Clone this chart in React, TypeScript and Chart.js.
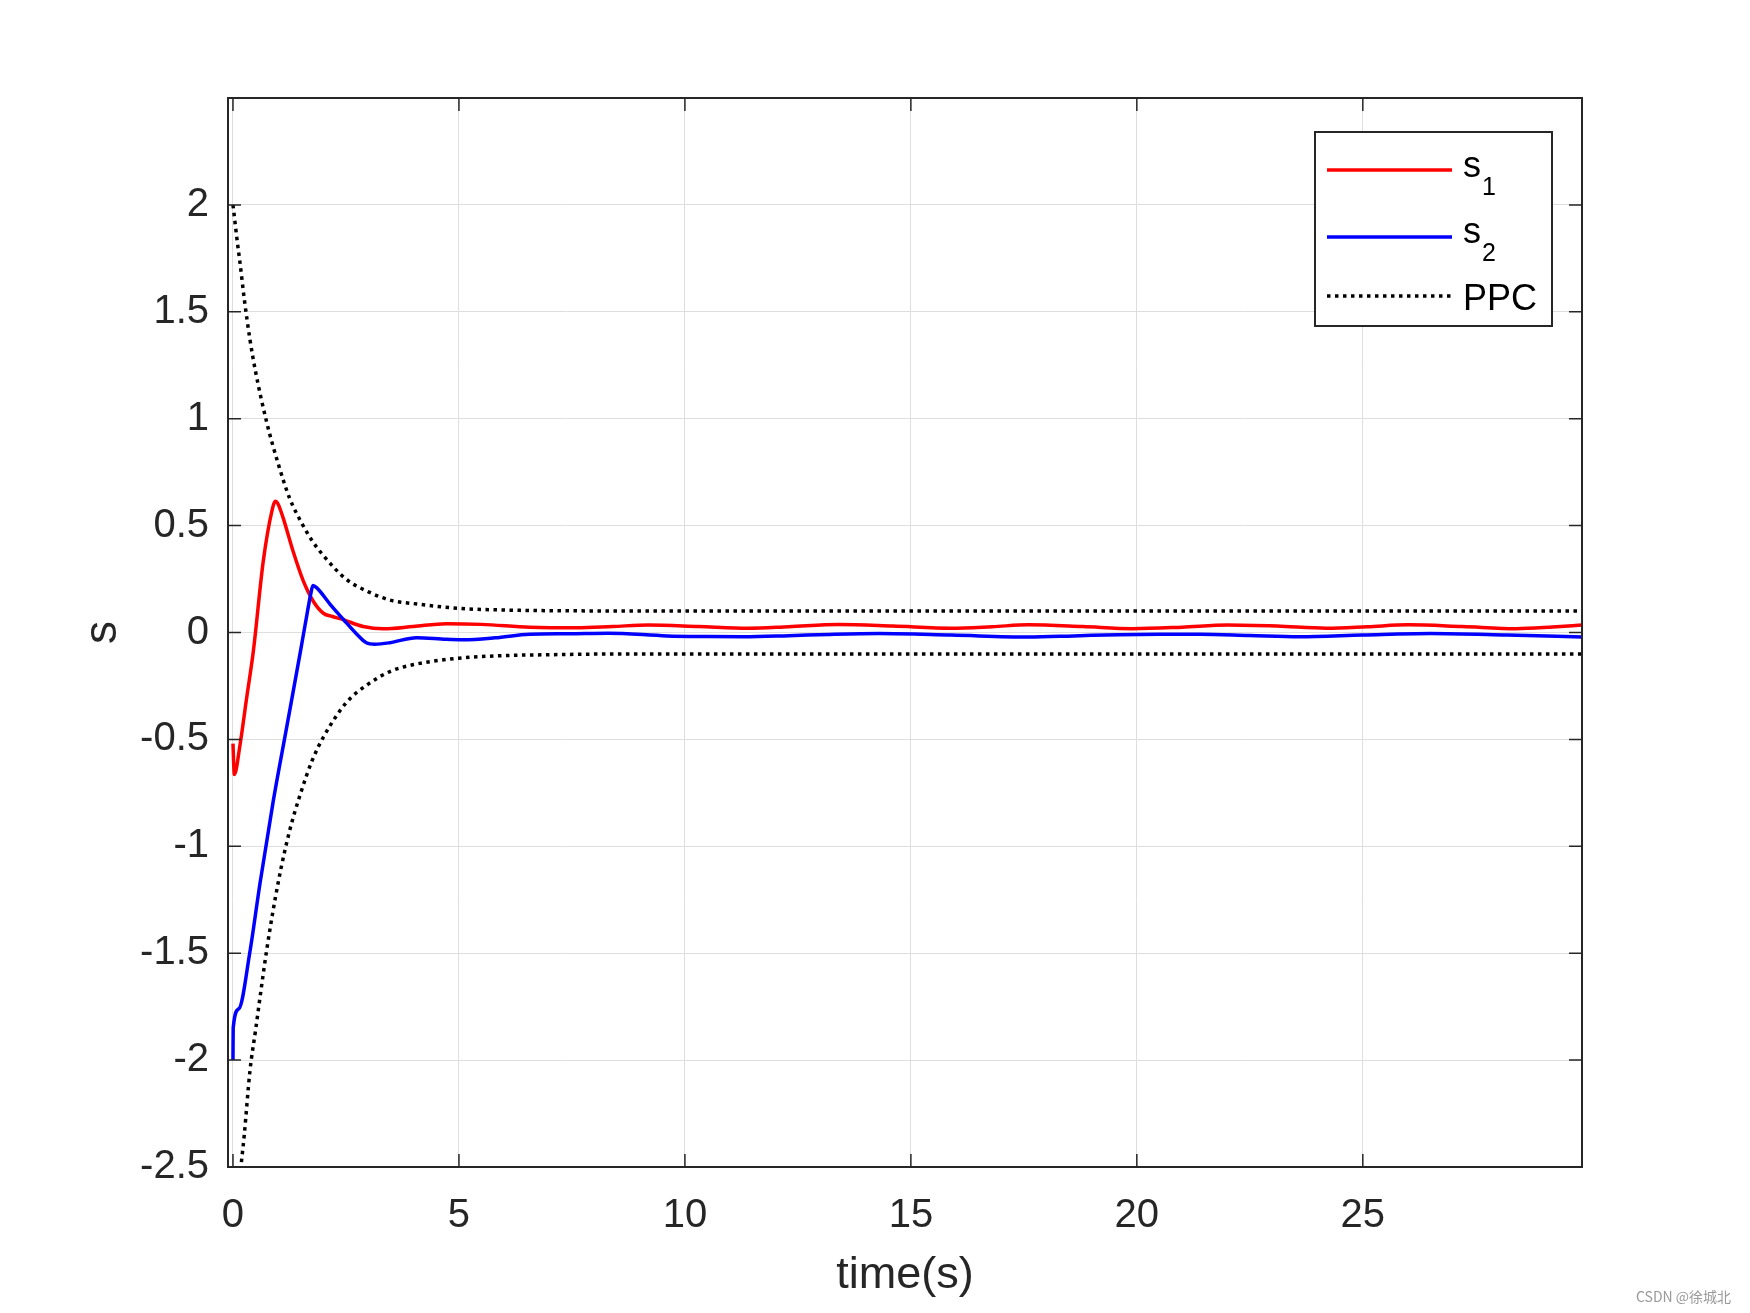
import React, { useEffect, useRef } from "react";
import { Chart, registerables } from "chart.js";

Chart.register(...registerables);

// ---- axes ----
const xTicks = [0, 5, 10, 15, 20, 25];
const xTickLabels = ["0", "5", "10", "15", "20", "25"];
const yTicks = [-2.5, -2, -1.5, -1, -0.5, 0, 0.5, 1, 1.5, 2];
const yTickLabels = ["-2.5", "-2", "-1.5", "-1", "-0.5", "0", "0.5", "1", "1.5", "2"];
const xRange = [-0.11, 29.85];
const yRange = [-2.5, 2.5];
const xTitle = "time(s)";
const yTitle = "s";

// ---- series s1 (red) ----
const s1Time = [0, 0.03, 0.155, 0.3, 0.45, 0.67, 0.86, 0.94, 1.0, 1.11, 1.33, 1.56, 1.78, 2.0, 2.2, 2.44, 2.88, 3.33, 3.99, 4.72, 5.5, 6.57, 7.6, 8.4, 9.2, 10.3, 11.4, 12.3, 13.4, 14.6, 15.9, 16.8, 17.6, 18.8, 19.9, 21.0, 22.0, 23.1, 24.2, 25.1, 26.0, 27.2, 28.4, 29.2, 29.85];
const s1Values = [-0.52, -0.664, -0.527, -0.31, -0.089, 0.333, 0.567, 0.614, 0.6, 0.536, 0.38, 0.239, 0.145, 0.09, 0.075, 0.06, 0.028, 0.017, 0.028, 0.041, 0.038, 0.025, 0.022, 0.028, 0.035, 0.028, 0.02, 0.027, 0.037, 0.03, 0.02, 0.027, 0.036, 0.028, 0.018, 0.025, 0.035, 0.03, 0.02, 0.027, 0.036, 0.028, 0.018, 0.026, 0.035];

// ---- series s2 (blue) ----
const s2Time = [0, 0.005, 0.13, 0.37, 0.6, 0.89, 1.2, 1.5, 1.65, 1.72, 1.77, 1.85, 2.15, 2.44, 2.74, 2.95, 3.14, 3.47, 4.06, 4.72, 5.1, 5.8, 6.57, 7.4, 8.3, 9.6, 10.5, 11.3, 12.3, 13.2, 14.3, 15.9, 17.6, 18.6, 19.6, 20.5, 21.4, 22.5, 23.6, 25.0, 26.5, 28.2, 29.85];
const s2Values = [-2.0, -1.85, -1.76, -1.5, -1.17, -0.79, -0.43, -0.08, 0.1, 0.18, 0.22, 0.21, 0.132, 0.062, -0.008, -0.048, -0.055, -0.048, -0.024, -0.032, -0.034, -0.025, -0.008, -0.006, -0.003, -0.016, -0.019, -0.02, -0.015, -0.009, -0.005, -0.012, -0.021, -0.016, -0.01, -0.008, -0.008, -0.014, -0.02, -0.012, -0.005, -0.012, -0.021];

// ---- PPC bounds (black dotted) ----
const ppcTime = [0, 0.1, 0.155, 0.25, 0.376, 0.5, 0.75, 1.0, 1.25, 1.5, 1.75, 2.0, 2.5, 3.0, 3.5, 4.0, 5.0, 6.0, 7.0, 8.0, 10, 15, 20, 25, 29.85];
const ppcUpper = [2.0, 1.82, 1.73, 1.56, 1.37, 1.22, 0.98, 0.79, 0.63, 0.52, 0.43, 0.36, 0.25, 0.19, 0.15, 0.135, 0.113, 0.105, 0.102, 0.101, 0.1, 0.1, 0.1, 0.1, 0.1];
const ppcLower = [-3.0, -2.72, -2.55, -2.35, -2.05, -1.86, -1.48, -1.17, -0.93, -0.75, -0.6, -0.49, -0.33, -0.24, -0.18, -0.15, -0.12, -0.108, -0.104, -0.101, -0.1, -0.1, -0.1, -0.1, -0.1];

const legendNames = ["s", "s", "PPC"];
const legendSubs = ["1", "2", ""];
const legendColors = ["#ff0000", "#0000ff", "#000000"];
const watermark = "CSDN @徐城北";

const FONT = '"Liberation Sans", Arial, Helvetica, sans-serif';
const TEXT = "#262626";
const DOT = [3.5, 4.5];

const toPoints = (t: number[], v: number[]) => t.map((x, i) => ({ x, y: v[i] }));

const framePlugin = {
  id: "matlabFrame",
  afterDatasetsDraw(chart: any) {
    const { ctx, chartArea, scales } = chart;
    const { left, right, top, bottom } = chartArea;
    const xs = scales.x;
    const ys = scales.y;
    ctx.save();
    // box
    ctx.strokeStyle = TEXT;
    ctx.lineWidth = 2;
    ctx.setLineDash([]);
    ctx.strokeRect(left, top, right - left, bottom - top);
    // inside ticks
    ctx.lineWidth = 1.5;
    const tl = 13;
    ctx.beginPath();
    xTicks.forEach((v) => {
      const px = xs.getPixelForValue(v);
      ctx.moveTo(px, bottom);
      ctx.lineTo(px, bottom - tl);
      ctx.moveTo(px, top);
      ctx.lineTo(px, top + tl);
    });
    yTicks.forEach((v) => {
      const py = ys.getPixelForValue(v);
      ctx.moveTo(left, py);
      ctx.lineTo(left + tl, py);
      ctx.moveTo(right, py);
      ctx.lineTo(right - tl, py);
    });
    ctx.stroke();

    // legend
    const bx = 1315, by = 132, bw = 237, bh = 194;
    ctx.fillStyle = "#ffffff";
    ctx.fillRect(bx, by, bw, bh);
    ctx.strokeStyle = TEXT;
    ctx.lineWidth = 2;
    ctx.strokeRect(bx, by, bw, bh);
    const lineYs = [170, 237, 296];
    const baseYs = [177, 243, 310];
    legendNames.forEach((name, i) => {
      ctx.beginPath();
      ctx.strokeStyle = legendColors[i];
      ctx.lineWidth = 3.5;
      ctx.lineCap = "butt";
      ctx.setLineDash(i === 2 ? DOT : []);
      ctx.moveTo(1327, lineYs[i]);
      ctx.lineTo(1452, lineYs[i]);
      ctx.stroke();
      ctx.setLineDash([]);
      ctx.fillStyle = "#000000";
      ctx.textAlign = "left";
      ctx.textBaseline = "alphabetic";
      ctx.font = `36px ${FONT}`;
      ctx.fillText(name, 1463, baseYs[i]);
      if (legendSubs[i]) {
        const w = ctx.measureText(name).width;
        ctx.font = `25px ${FONT}`;
        ctx.fillText(legendSubs[i], 1463 + w + 1, baseYs[i] + 18);
      }
    });

    // axis titles
    ctx.fillStyle = TEXT;
    ctx.font = `45px ${FONT}`;
    ctx.textAlign = "center";
    ctx.textBaseline = "alphabetic";
    ctx.fillText(xTitle, (left + right) / 2, 1288);
    ctx.save();
    ctx.translate(116, (top + bottom) / 2);
    ctx.rotate(-Math.PI / 2);
    ctx.font = `46px ${FONT}`;
    ctx.fillText(yTitle, 0, 0);
    ctx.restore();

    // watermark
    ctx.fillStyle = "#999999";
    ctx.font = '14px "Noto Sans CJK SC", "Liberation Sans", sans-serif';
    ctx.textAlign = "left";
    ctx.fillText(watermark, 1636, 1302);
    ctx.restore();
  },
};

export default function App() {
  const canvasRef = useRef<HTMLCanvasElement | null>(null);

  useEffect(() => {
    const canvas = canvasRef.current;
    if (!canvas) return;
    const common = { pointRadius: 0, fill: false, cubicInterpolationMode: "monotone" as const, clip: 0 };
    const chart = new Chart(canvas, {
      type: "line",
      data: {
        datasets: [
          { ...common, label: "s2", data: toPoints(s2Time, s2Values), borderColor: "#0000ff", borderWidth: 3.5 },
          { ...common, label: "s1", data: toPoints(s1Time, s1Values), borderColor: "#ff0000", borderWidth: 3.5 },
          { ...common, label: "PPC", data: toPoints(ppcTime, ppcUpper), borderColor: "#000000", borderWidth: 3.5, borderDash: DOT, borderCapStyle: "butt" },
          { ...common, label: "PPC-", data: toPoints(ppcTime, ppcLower), borderColor: "#000000", borderWidth: 3.5, borderDash: DOT, borderCapStyle: "butt" },
        ],
      } as any,
      options: {
        responsive: false,
        animation: false,
        events: [],
        layout: { padding: { top: 98, right: 168, left: 0, bottom: 0 } },
        plugins: { legend: { display: false }, tooltip: { enabled: false } },
        scales: {
          x: {
            type: "linear",
            min: xRange[0],
            max: xRange[1],
            afterBuildTicks: (s: any) => {
              s.ticks = xTicks.map((v) => ({ value: v }));
            },
            afterFit: (s: any) => {
              s.height = 146;
            },
            grid: { color: "#dedede", lineWidth: 1, drawTicks: false },
            border: { display: false },
            ticks: {
              autoSkip: false,
              maxRotation: 0,
              minRotation: 0,
              padding: 25,
              color: TEXT,
              font: { family: FONT, size: 40 },
              callback: (_v: any, i: number) => xTickLabels[i],
            },
          },
          y: {
            type: "linear",
            min: yRange[0],
            max: yRange[1],
            afterBuildTicks: (s: any) => {
              s.ticks = yTicks.map((v) => ({ value: v }));
            },
            afterFit: (s: any) => {
              s.width = 228;
            },
            grid: { color: "#dedede", lineWidth: 1, drawTicks: false },
            border: { display: false },
            ticks: {
              autoSkip: false,
              padding: 19,
              color: TEXT,
              font: { family: FONT, size: 40 },
              callback: (_v: any, i: number) => yTickLabels[i],
            },
          },
        },
      } as any,
      plugins: [framePlugin],
    });
    return () => chart.destroy();
  }, []);

  return (
    <div style={{ position: "absolute", left: 0, top: 0, width: 1750, height: 1313, background: "#ffffff" }}>
      <canvas ref={canvasRef} width={1750} height={1313} style={{ width: 1750, height: 1313, display: "block" }} />
    </div>
  );
}
